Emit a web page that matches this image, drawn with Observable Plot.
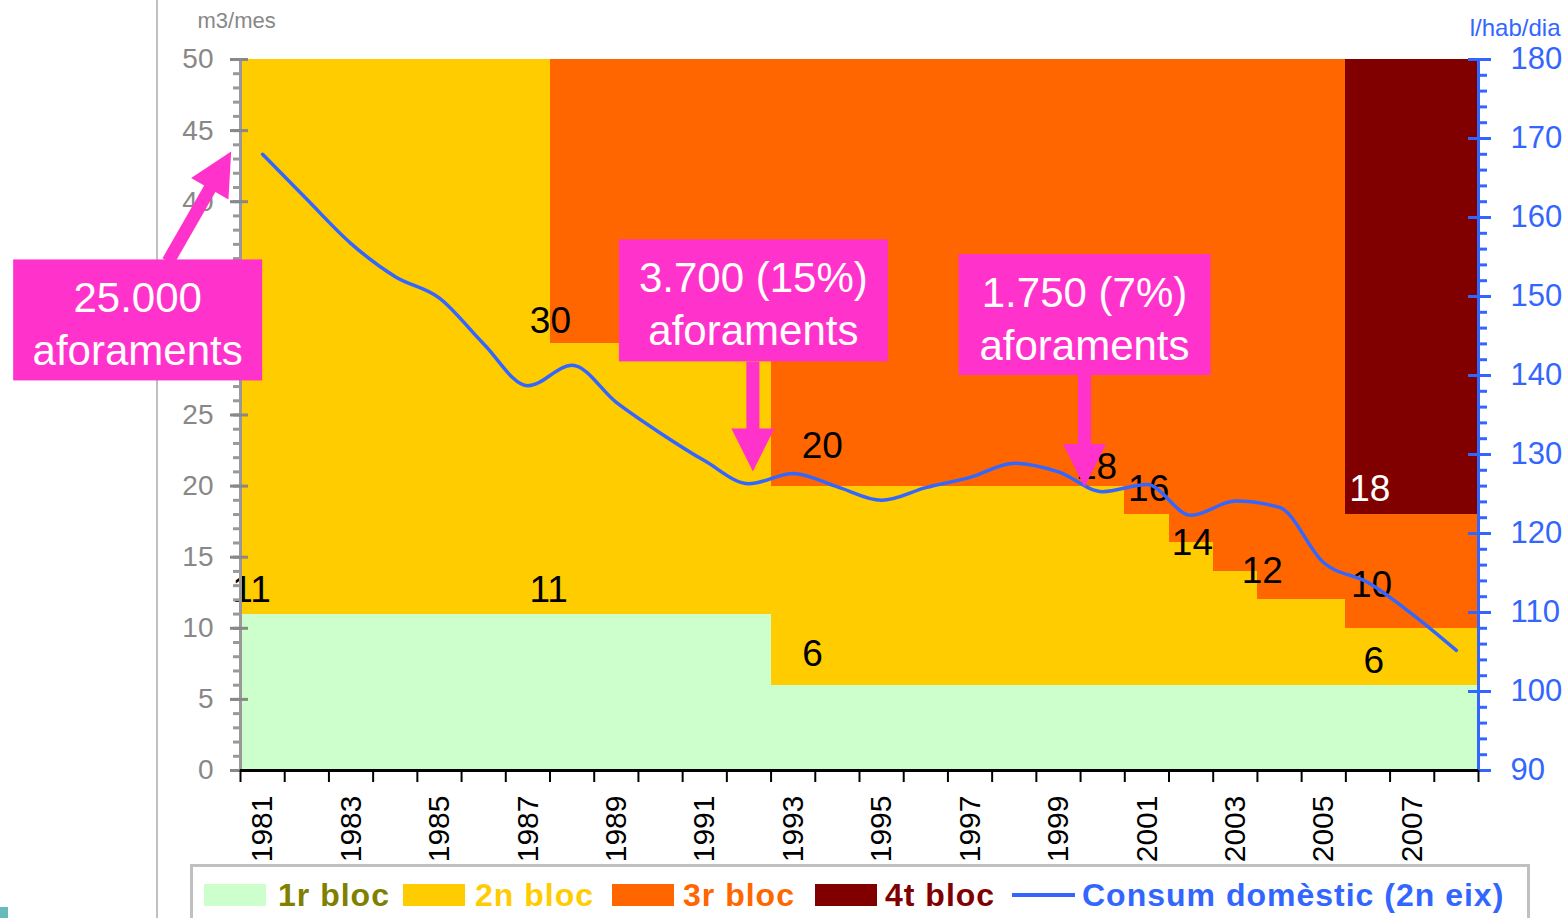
<!DOCTYPE html>
<html><head><meta charset="utf-8">
<script src="https://cdn.jsdelivr.net/npm/d3@7"></script>
<script src="https://cdn.jsdelivr.net/npm/@observablehq/plot@0.6"></script>
<style>
html,body{margin:0;padding:0;background:#fff;width:1567px;height:918px;overflow:hidden;font-family:"Liberation Sans",Arial,sans-serif;}
#wrap{position:relative;width:1567px;height:918px;}
#vline{position:absolute;left:156px;top:0;width:2px;height:918px;background:#c0c0c0;}
#teal{position:absolute;left:0;top:907px;width:8px;height:11px;background:#66bbbb;}
#chart{position:absolute;left:0;top:0;}
#legend{position:absolute;left:190px;top:864px;width:1340px;height:60px;border:3px solid #c0c0c0;border-bottom:none;box-sizing:border-box;background:#fff}
.sw{position:absolute;top:17px;height:22px;width:62px}
.ln{position:absolute;top:26px;height:4px;width:63px;background:#3366ff}
.lt{position:absolute;top:9px;font-size:32px;font-weight:bold;line-height:38px;white-space:nowrap;letter-spacing:1px}
</style></head>
<body>
<div id="wrap">
  <div id="vline"></div>
  <div id="teal"></div>
  <div id="chart"></div>
  <div id="legend"></div>
</div>
<script>
// ---- data ----
const years = [1981,1982,1983,1984,1985,1986,1987,1988,1989,1990,1991,1992,1993,1994,1995,1996,1997,1998,1999,2000,2001,2002,2003,2004,2005,2006,2007,2008];
// upper limit of each block (m3/mes), cumulative
const bloc1Top = [11,11,11,11,11,11,11,11,11,11,11,11,6,6,6,6,6,6,6,6,6,6,6,6,6,6,6,6];
const bloc2Top = [50,50,50,50,50,50,50,30,30,30,30,30,20,20,20,20,20,20,20,20,18,16,14,12,12,10,10,10];
const bloc3Top = [null,null,null,null,null,null,null,50,50,50,50,50,50,50,50,50,50,50,50,50,50,50,50,50,50,18,18,18];
const bloc4Top = [null,null,null,null,null,null,null,null,null,null,null,null,null,null,null,null,null,null,null,null,null,null,null,null,null,50,50,50];
// domestic consumption (l/hab/dia, secondary axis)
const consum = [168.0,162.3,156.7,152.5,149.8,144.0,138.7,141.3,136.6,132.7,129.2,126.3,127.6,125.9,124.2,125.8,127.1,128.9,127.8,125.3,126.2,122.3,124.1,123.3,116.3,113.8,109.8,105.2];

const yearTickLabels = ["1981","1983","1985","1987","1989","1991","1993","1995","1997","1999","2001","2003","2005","2007"];
const leftTicks = [0,5,10,15,20,25,30,35,40,45,50];
const rightTicks = [90,100,110,120,130,140,150,160,170,180];

const labelText  = ["11","11","30","20","6","18","16","14","12","10","18","6"];
const labelYear  = [1981.25,1987.97,1988.01,1994.16,1993.94,2000.36,2001.54,2002.53,2004.11,2006.58,2006.54,2006.63];
const labelValue = [12.7,12.7,31.6,22.8,8.2,21.3,19.8,16.0,14.0,13.0,19.8,7.7];
const labelWhite = [false,false,false,false,false,false,false,false,false,false,true,false];

const annLines = [["25.000","aforaments"],["3.700 (15%)","aforaments"],["1.750 (7%)","aforaments"]];
const annYear  = [1980.8, 1992.6, 2000.1];
const annValue = [43.5, 21.0, 19.9];

const legendNames  = ["1r bloc","2n bloc","3r bloc","4t bloc","Consum domèstic (2n eix)"];
const colors = {b1:"#CCFFCC", b2:"#FFCC00", b3:"#FF6600", b4:"#800000", line:"#3366FF"};

// ---- build ----
const rightMin = 90, rightMax = 180, leftMax = 50;
const toLeft = v => (v - rightMin) * leftMax / (rightMax - rightMin);
const fromLeft = d => rightMin + d * (rightMax - rightMin) / leftMax;

const rows = years.map((y,i)=>({year:y, b1:bloc1Top[i], b2:bloc2Top[i], b3:bloc3Top[i], b4:bloc4Top[i], c:consum[i]}));
const labels = labelText.map((t,i)=>({t, x:labelYear[i], y:labelValue[i], white:labelWhite[i]}));

const font = "Liberation Sans, Arial, sans-serif";
const chart = Plot.plot({
  width: 1567, height: 866,
  marginLeft: 240, marginRight: 89, marginTop: 59, marginBottom: 96,
  x: {domain: [1981, 2009], axis: null},
  y: {domain: [0, 50], axis: null},
  style: {fontFamily: font, background: "transparent", overflow: "visible"},
  marks: [
    Plot.rectY(rows, {x1: d=>d.year, x2: d=>d.year+1, y1: 0, y2: "b1", fill: colors.b1, shapeRendering: "crispEdges"}),
    Plot.rectY(rows, {x1: d=>d.year, x2: d=>d.year+1, y1: "b1", y2: "b2", fill: colors.b2, shapeRendering: "crispEdges"}),
    Plot.rectY(rows.filter(d=>d.b3!=null), {x1: d=>d.year, x2: d=>d.year+1, y1: "b2", y2: "b3", fill: colors.b3, shapeRendering: "crispEdges"}),
    Plot.rectY(rows.filter(d=>d.b4!=null), {x1: d=>d.year, x2: d=>d.year+1, y1: "b3", y2: "b4", fill: colors.b4, shapeRendering: "crispEdges"}),
    Plot.text(labels, {x: "x", y: "y", text: "t", fill: d=>d.white?"#fff":"#000", fontSize: 37}),
    Plot.line(rows, {x: d=>d.year+0.5, y: d=>toLeft(d.c), stroke: colors.line, strokeWidth: 3.5, curve: "monotone-x"}),
    // left axis
    Plot.ruleX([1981], {stroke: "#999", strokeWidth: 3}),
    Plot.axisY({ticks: d3.range(0, 51, 1), tickSize: 7, tickFormat: () => "", label: null, color: "#999", strokeWidth: 3}),
    Plot.axisY({ticks: leftTicks, tickSize: 18, dx: 8, tickPadding: 17, label: null, color: "#888", strokeWidth: 3, fontSize: 28}),
    // right axis
    Plot.ruleX([2009], {stroke: colors.line, strokeWidth: 3}),
    Plot.axisY({anchor: "right", ticks: d3.range(90, 181, 2).map(toLeft), tickSize: 8, tickFormat: () => "", label: null, color: colors.line, strokeWidth: 3}),
    Plot.axisY({anchor: "right", ticks: rightTicks.map(toLeft), tickSize: 23, dx: -11, tickPadding: 20, tickFormat: d => String(Math.round(fromLeft(d))), label: null, color: colors.line, strokeWidth: 3, fontSize: 31}),
    // bottom axis
    Plot.axisX({ticks: d3.range(1981, 2010, 1), tickSize: 12, tickFormat: () => "", label: null, color: "#000", strokeWidth: 2}),
    Plot.axisX({ticks: yearTickLabels.map(s => +s + 0.5), tickSize: 0, tickRotate: -90, tickPadding: 25, tickFormat: d => String(Math.floor(d)), label: null, color: "#000", fontSize: 30}),
    Plot.ruleY([0], {stroke: "#000", strokeWidth: 3}),
    Plot.text(["m3/mes"], {text: d=>d, frameAnchor: "top-left", lineAnchor: "middle", dx: -43, dy: -39, textAnchor: "start", fill: "#888", fontSize: 22}),
    Plot.text(["l/hab/dia"], {text: d=>d, frameAnchor: "top-right", lineAnchor: "middle", dx: 82, dy: -31, textAnchor: "end", fill: colors.line, fontSize: 24})
  ]
});
document.getElementById("chart").appendChild(chart);

// ---- callouts (anchored through the chart scales) ----
const xs = chart.scale("x"), ys = chart.scale("y");
const boxes = [[-218,108,249,121],[-134,-232,269,122],[-126,-233,252,121]];
const bases = [[-63,110],[0,-110],[0,-112]];
const pink = "#FF33CC";
const g = d3.select(chart).append("g").attr("class","callouts");
annLines.forEach((lines,i)=>{
  const tx = xs.apply(annYear[i]), ty = ys.apply(annValue[i]);
  const bx = tx + bases[i][0], by = ty + bases[i][1];
  const len = Math.hypot(tx-bx, ty-by), ux = (tx-bx)/len, uy = (ty-by)/len;
  const hl = 43, hw = 21.5;
  const hx = tx - ux*hl, hy = ty - uy*hl;
  g.append("line").attr("x1",bx).attr("y1",by).attr("x2",hx+ux*2).attr("y2",hy+uy*2).attr("stroke",pink).attr("stroke-width",13);
  g.append("polygon").attr("points",[[tx,ty],[hx - uy*hw, hy + ux*hw],[hx + uy*hw, hy - ux*hw]].map(p=>p.join(",")).join(" ")).attr("fill",pink);
  const b = boxes[i];
  const x0 = tx + b[0], y0 = ty + b[1];
  g.append("rect").attr("x",x0).attr("y",y0).attr("width",b[2]).attr("height",b[3]).attr("fill",pink);
  lines.forEach((s,j)=>{
    g.append("text").attr("x", x0 + b[2]/2).attr("y", y0 + 53 + j*53).attr("text-anchor","middle")
      .attr("fill","#fff").attr("font-size",42).attr("font-family",font).text(s);
  });
});

// ---- legend ----
const leg = document.getElementById("legend");
const swLeft = [11,210,419,622];
const txLeft = [85,282,490,692,889];
const legColors = [colors.b1, colors.b2, colors.b3, colors.b4, colors.line];
const legTextColors = ["#808000", colors.b2, colors.b3, colors.b4, colors.line];
legendNames.forEach((n,i)=>{
  if (i < 4) {
    const s = document.createElement("div"); s.className = "sw"; s.style.left = swLeft[i]+"px"; s.style.background = legColors[i]; leg.appendChild(s);
  } else {
    const l = document.createElement("div"); l.className = "ln"; l.style.left = "819px"; leg.appendChild(l);
  }
  const t = document.createElement("div"); t.className = "lt"; t.style.left = txLeft[i]+"px"; t.style.color = legTextColors[i]; t.textContent = n; leg.appendChild(t);
});
</script>
</body></html>
